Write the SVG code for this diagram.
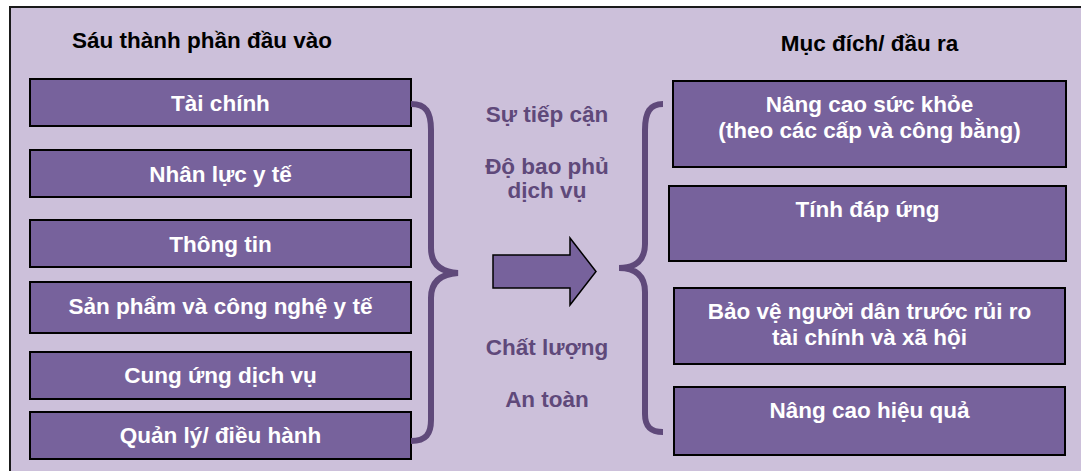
<svg xmlns="http://www.w3.org/2000/svg" width="1081" height="471" viewBox="0 0 1081 471">
  <style>
    .box { fill: #77629c; stroke: #000; stroke-width: 2; }
    .boxtext { font-family: "Liberation Sans", Arial, sans-serif; font-weight: bold; font-size: 22.5px; fill: #fff; text-anchor: middle; }
    .head { font-family: "Liberation Sans", Arial, sans-serif; font-weight: bold; font-size: 22.5px; fill: #000; }
    .mid { font-family: "Liberation Sans", Arial, sans-serif; font-weight: bold; font-size: 22.5px; fill: #5f497a; text-anchor: middle; }
    .brace { fill: none; stroke: #5f497a; stroke-width: 6; }
    .arrow { fill: #77629c; stroke: #000; stroke-width: 1.5; stroke-linejoin: miter; }
  </style>

  <rect width="1081" height="471" fill="#fff"/>
  <!-- panel -->
  <rect x="10" y="7" width="1090" height="480" fill="#ccc0da" stroke="#1a1a1a" stroke-width="2"/>

  <!-- headings -->
  <text class="head" x="72" y="48">Sáu thành phần đầu vào</text>
  <text class="head" x="869.5" y="51" text-anchor="middle">Mục đích/ đầu ra</text>

  <!-- input components -->
  <g id="input-finance">
    <rect class="box" x="30" y="79" width="381" height="47"/>
    <text class="boxtext" x="220.5" y="110.5">Tài chính</text>
  </g>
  <g id="input-workforce">
    <rect class="box" x="30" y="150" width="381" height="47"/>
    <text class="boxtext" x="220.5" y="181.5">Nhân lực y tế</text>
  </g>
  <g id="input-information">
    <rect class="box" x="30" y="220" width="381" height="47"/>
    <text class="boxtext" x="220.5" y="251.5">Thông tin</text>
  </g>
  <g id="input-products">
    <rect class="box" x="30" y="282" width="381" height="51"/>
    <text class="boxtext" x="220.5" y="314">Sản phẩm và công nghệ y tế</text>
  </g>
  <g id="input-delivery">
    <rect class="box" x="30" y="352" width="381" height="47"/>
    <text class="boxtext" x="220.5" y="383">Cung ứng dịch vụ</text>
  </g>
  <g id="input-governance">
    <rect class="box" x="30" y="412" width="381" height="47"/>
    <text class="boxtext" x="220.5" y="443">Quản lý/ điều hành</text>
  </g>

  <!-- intermediate attributes -->
  <g id="attributes">
    <text class="mid" x="547" y="122">Sự tiếp cận</text>
    <text class="mid" x="547" y="174">Độ bao phủ</text>
    <text class="mid" x="547" y="198">dịch vụ</text>
    <text class="mid" x="547" y="355">Chất lượng</text>
    <text class="mid" x="547" y="407">An toàn</text>
  </g>

  <!-- outcomes -->
  <g id="goal-health">
    <rect class="box" x="673" y="81" width="393" height="86"/>
    <text class="boxtext" x="869.5" y="112">Nâng cao sức khỏe</text>
    <text class="boxtext" x="869.5" y="138">(theo các cấp và công bằng)</text>
  </g>
  <g id="goal-responsiveness">
    <rect class="box" x="669" y="186" width="397" height="75"/>
    <text class="boxtext" x="867.5" y="217">Tính đáp ứng</text>
  </g>
  <g id="goal-protection">
    <rect class="box" x="674" y="288" width="391" height="76"/>
    <text class="boxtext" x="869.5" y="319">Bảo vệ người dân trước rủi ro</text>
    <text class="boxtext" x="869.5" y="345">tài chính và xã hội</text>
  </g>
  <g id="goal-efficiency">
    <rect class="box" x="674" y="387" width="391" height="68"/>
    <text class="boxtext" x="869.5" y="418">Nâng cao hiệu quả</text>
  </g>

  <!-- connectors: braces and block arrow -->
  <g id="connectors">
    <path class="brace" d="M411,104 C426,104 431,112 431,130 L431,248 C431,264 440,272 458,273 C440,274 431,282 431,298 L431,420 C431,434 426,441 411,441"/>
    <path class="brace" d="M663,104 C650,104 645,112 645,130 L645,244 C645,260 636,268 619,268 C636,268 645,276 645,292 L645,414 C645,426 650,432 663,432"/>
    <polygon class="arrow" points="493,255 570,255 570,238 596,271.5 570,305 570,288 493,288"/>
  </g>
</svg>
